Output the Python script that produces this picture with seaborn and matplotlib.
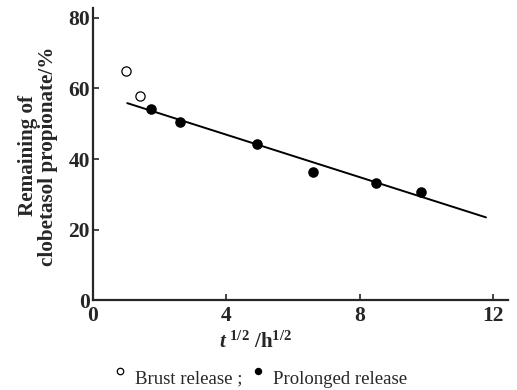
import numpy as np
import pandas as pd
import matplotlib
matplotlib.use("Agg")
import matplotlib.pyplot as plt
import seaborn as sns

# data
burst_x = [1.00, 1.41]
burst_y = [64.8, 57.7]
prolonged_x = [1.76, 2.63, 4.92, 6.60, 8.48, 9.82]
prolonged_y = [54.2, 50.5, 44.3, 36.4, 33.1, 30.8]
fit_x = [1.04, 11.78]
fit_y = [55.8, 23.5]

x_ticks = [0, 4, 8, 12]
y_ticks = [0, 20, 40, 60, 80]

burst = pd.DataFrame({"t": burst_x, "r": burst_y})
prolonged = pd.DataFrame({"t": prolonged_x, "r": prolonged_y})
fit = pd.DataFrame({"t": fit_x, "r": fit_y})

sns.set_theme(style="ticks")
plt.rcParams["font.family"] = ["Liberation Serif", "DejaVu Serif"]
plt.rcParams["mathtext.fontset"] = "custom"
plt.rcParams["mathtext.rm"] = "Liberation Serif:bold"
plt.rcParams["mathtext.bf"] = "Liberation Serif:bold"
plt.rcParams["mathtext.it"] = "Liberation Serif:italic:bold"
plt.rcParams["mathtext.bfit"] = "Liberation Serif:italic:bold"

fig = plt.figure(figsize=(5.17, 3.9), dpi=100)
ax = fig.add_axes([0.179, 0.2295, 0.803, 0.75])

sns.lineplot(data=fit, x="t", y="r", ax=ax, color="black", linewidth=1.4)
sns.scatterplot(data=burst, x="t", y="r", ax=ax, s=44, facecolor="white",
                edgecolor="black", linewidth=0.9, label="Brust release ;", zorder=3)
sns.scatterplot(data=prolonged, x="t", y="r", ax=ax, s=58, color="black",
                edgecolor="black", linewidth=0, label="Prolonged release", zorder=3)

ax.set_xlim(0, 12.43)
ax.set_ylim(0, 82.7)
ax.set_xticks(x_ticks)
ax.set_yticks(y_ticks)
ax.set_xticklabels([str(v) for v in x_ticks], fontsize=15.5, fontweight="bold")
ax.set_yticklabels([str(v) for v in y_ticks], fontsize=15.5, fontweight="bold")
ax.tick_params(direction="in", length=4, width=1.2)
ax.tick_params(axis="x", pad=4)
ax.tick_params(axis="y", pad=2)
for s in ["top", "right"]:
    ax.spines[s].set_visible(False)
for s in ["left", "bottom"]:
    ax.spines[s].set_linewidth(1.6)

ax.set_ylabel("Remaining of\nclobetasol propionate/%", fontsize=15.2,
              fontweight="bold", linespacing=1.0)
ax.yaxis.set_label_coords(-0.083, 0.494)
ax.set_xlabel(r"$\mathit{t}^{\ 1/2}\ /\mathrm{h}^{1/2}$", fontsize=15)
ax.xaxis.set_label_coords(0.393, -0.105)

ax.legend_.remove()
h, l = ax.get_legend_handles_labels()
fig.legend(h, l, loc="center", bbox_to_anchor=(0.503, 0.028), ncol=2,
           frameon=False, fontsize=13.5, handletextpad=0.4, columnspacing=0.4,
           handlelength=0.8, markerscale=0.7, borderpad=0, scatteryoffsets=[1.0])

fig.savefig("out.png", dpi=100)
